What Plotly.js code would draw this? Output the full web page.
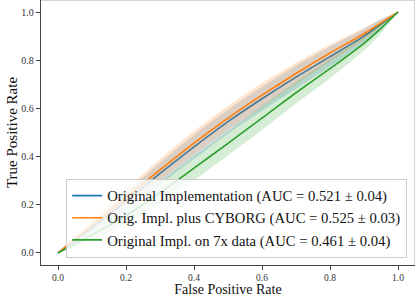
<!DOCTYPE html>
<html><head><meta charset="utf-8">
<script src="https://cdn.plot.ly/plotly-3.0.1.min.js"></script>
<style>html,body{margin:0;padding:0;background:#fff}#chart{width:415px;height:297px}</style>
</head><body><div id="chart"></div>
<script>
const fpr = [0, 0.1, 0.2, 0.3, 0.4, 0.5, 0.6, 0.7, 0.8, 0.9, 0.95, 1];
const origMean = [0, 0.105, 0.215, 0.33, 0.44, 0.545, 0.64, 0.73, 0.815, 0.90, 0.95, 1];
const origStd  = [0, 0.02, 0.035, 0.045, 0.05, 0.05, 0.05, 0.048, 0.042, 0.03, 0.02, 0];
const cyborgMean = [0, 0.115, 0.23, 0.345, 0.456, 0.56, 0.655, 0.745, 0.83, 0.91, 0.955, 1];
const cyborgStd  = [0, 0.02, 0.035, 0.045, 0.05, 0.05, 0.05, 0.045, 0.035, 0.025, 0.015, 0];
const sevenMean = [0, 0.075, 0.155, 0.25, 0.352, 0.455, 0.56, 0.665, 0.765, 0.87, 0.932, 1];
const sevenStd  = [0, 0.02, 0.035, 0.045, 0.05, 0.05, 0.05, 0.045, 0.04, 0.03, 0.02, 0];
const names = [
  "Original Implementation (AUC = 0.521 ± 0.04)",
  "Orig. Impl. plus CYBORG (AUC = 0.525 ± 0.03)",
  "Original Impl. on 7x data (AUC = 0.461 ± 0.04)"
];
const xTicks = [0, 0.2, 0.4, 0.6, 0.8, 1.0];
const yTicks = [0, 0.2, 0.4, 0.6, 0.8, 1.0];

const series = [
  {mean: origMean, std: origStd, color: "31,119,180"},
  {mean: cyborgMean, std: cyborgStd, color: "255,127,14"},
  {mean: sevenMean, std: sevenStd, color: "44,160,44"}
];
const traces = [];
series.forEach((s, i) => {
  const up = s.mean.map((m, k) => Math.min(m + s.std[k], 1));
  const lo = s.mean.map((m, k) => Math.max(m - s.std[k], 0));
  traces.push({x: fpr.concat(fpr.slice().reverse()), y: up.concat(lo.slice().reverse()),
    mode: "lines", fill: "toself", fillcolor: "rgba(" + s.color + ",0.2)",
    line: {width: 0, shape: "spline", smoothing: 0.6}, hoverinfo: "skip", showlegend: false});
  traces.push({x: fpr, y: s.mean, mode: "lines", name: names[i],
    line: {color: "rgb(" + s.color + ")", width: 1.6, shape: "spline", smoothing: 0.6}});
});

const font = "Liberation Serif, Times New Roman, serif";
const layout = {
  width: 415, height: 297,
  margin: {l: 41, r: 0, t: 0, b: 31.5},
  paper_bgcolor: "#fff", plot_bgcolor: "#fff",
  font: {family: font, color: "#111"},
  showlegend: true,
  xaxis: {range: [-0.05, 1.05], tickvals: xTicks, tickformat: ".1f", showgrid: false, zeroline: false,
    showline: true, linecolor: "#444", linewidth: 1.3, ticks: "outside", ticklen: 3.5, tickcolor: "#444",
    tickfont: {size: 9.5, family: font, color: "#333"},
    title: {text: "False Positive Rate", font: {size: 14, family: font, color: "#111"}, standoff: 0}},
  yaxis: {range: [-0.05, 1.05], tickvals: yTicks, tickformat: ".1f", showgrid: false, zeroline: false,
    showline: true, linecolor: "#444", linewidth: 1.3, ticks: "outside", ticklen: 4, tickcolor: "#444",
    tickfont: {size: 10, family: font, color: "#333"},
    title: {text: "True Positive Rate", font: {size: 15, family: font, color: "#111"}, standoff: 0}},
  legend: {x: 0.979, xanchor: "right", y: 0.028, yanchor: "bottom",
    bgcolor: "rgba(255,255,255,0.8)", bordercolor: "#ccc", borderwidth: 1,
    font: {size: 14.7, family: font, color: "#111"}},
  shapes: [
    {type: "line", xref: "paper", yref: "paper", x0: 0, x1: 1, y0: 1, y1: 1, line: {color: "#aaa", width: 1}},
    {type: "line", xref: "paper", yref: "paper", x0: 1, x1: 1, y0: 0, y1: 1, line: {color: "#aaa", width: 1}}
  ]
};
Plotly.newPlot("chart", traces, layout, {displayModeBar: false, staticPlot: true});
</script></body></html>
